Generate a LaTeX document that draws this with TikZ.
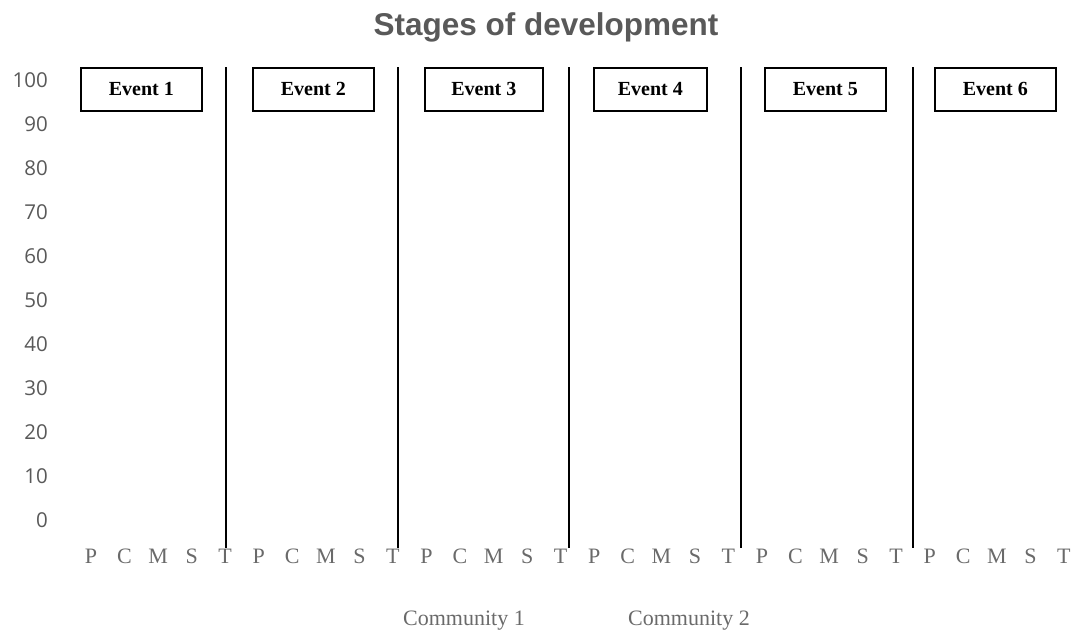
\documentclass[tikz,border=0pt]{standalone}
\usepackage{fontspec}
\setmainfont{Liberation Serif}
\newfontfamily\titlefont{Liberation Sans}
\newfontfamily\axisfont{Open Sans}
\definecolor{txtgray}{HTML}{595959}
\definecolor{catgray}{HTML}{6A6A6A}
\begin{document}
\begin{tikzpicture}[x=1pt,y=-1pt,
  titlestyle/.style={font=\titlefont\bfseries\fontsize{31.5}{34}\selectfont, text=txtgray},
  ylab/.style={anchor=east, font=\axisfont\fontsize{20.5}{23}\selectfont, text=txtgray, inner sep=0pt},
  xlab/.style={font=\fontsize{22}{24}\selectfont, text=catgray, inner sep=0pt},
  eventbox/.style={draw=black, line width=1.7pt, font=\bfseries\fontsize{20}{22}\selectfont, inner sep=0pt, anchor=north west},
  divider/.style={draw=black, line width=1.8pt},
  legtext/.style={font=\fontsize{22}{24}\selectfont, text=catgray, inner sep=0pt}]
\useasboundingbox (0,0) rectangle (1075,634);
\node[titlestyle] (title) at (546,27) {Stages of development};
% y axis labels
\foreach \v [count=\i from 0] in {0,10,20,30,40,50,60,70,80,90,100} {
  \node[ylab] (y\v) at (48,{520-44*\i}) {\v};
}
% category labels
\foreach \grp in {0,...,5} {
  \foreach \c [count=\k from 0] in {P,C,M,S,T} {
    \node[xlab] (x\grp\c) at ({91+33.55*(5*\grp+\k)},556) {\c};
  }
}
% event boxes
\node[eventbox, minimum width=121pt, minimum height=43pt] (e1) at (80,67) {Event 1};
\node[eventbox, minimum width=121pt, minimum height=43pt] (e2) at (252,67) {Event 2};
\node[eventbox, minimum width=118pt, minimum height=43pt] (e3) at (424,67) {Event 3};
\node[eventbox, minimum width=113pt, minimum height=43pt] (e4) at (593,67) {Event 4};
\node[eventbox, minimum width=121pt, minimum height=43pt] (e5) at (764,67) {Event 5};
\node[eventbox, minimum width=121pt, minimum height=43pt] (e6) at (934,67) {Event 6};
% dividers
\foreach \xx [count=\j] in {226,398,569,741,913} {
  \coordinate (d\j t) at (\xx,67);
  \coordinate (d\j b) at (\xx,548);
  \draw[divider] (d\j t) -- (d\j b);
}
% legend
\node[legtext] (c1) at (464,621) {Community 1};
\node[legtext] (c2) at (689,621) {Community 2};
\end{tikzpicture}
\end{document}
